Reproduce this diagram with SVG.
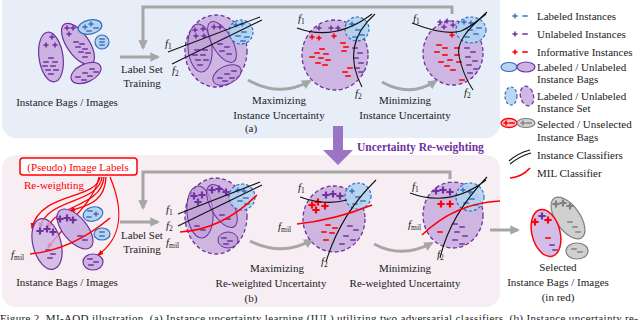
<svg xmlns="http://www.w3.org/2000/svg" xmlns:xlink="http://www.w3.org/1999/xlink" width="640" height="320" viewBox="0 0 640 320">
<style>
text{font-family:"Liberation Serif","Times New Roman",serif;font-size:11px;fill:#222}
.it{font-style:italic}
.sub{font-style:normal;font-size:7.5px}
.pu{stroke:#7030a0;stroke-width:1.5;fill:none}
.bl{stroke:#2f6fc0;stroke-width:1.4;fill:none}
.rd{stroke:#ff0000;stroke-width:1.6;fill:none}
.gy{stroke:#808080;stroke-width:1.5;fill:none}
.bag{fill:#cdb3e2;stroke:#7030a0;stroke-width:1.2}
.bagB{fill:#b9d3ef;stroke:#2f6fc0;stroke-width:1.2}
.set{fill:#c8acdd;fill-opacity:0.85;stroke:#7030a0;stroke-width:1.3;stroke-dasharray:4 2.5}
.setB{fill:#b3d1ef;fill-opacity:0.9;stroke:#2f6fc0;stroke-width:1.2;stroke-dasharray:3 2}
.inner{fill:#bb9ad6;fill-opacity:0.6;stroke:#7030a0;stroke-width:1}
.cls{stroke:#111;stroke-width:1.1;fill:none}
.mil{stroke:#ff0000;stroke-width:1.6;fill:none}
.flow{stroke:#a6a6a6;stroke-width:3;fill:none}
.rarr{stroke:#ff0000;stroke-width:1.3;fill:none}
</style>
<defs>
<path id="pl" d="M-2.6,0h5.2M0,-2.6v5.2"/>
<path id="PL" d="M-3.6,0h7.2M0,-3.6v7.2" stroke-width="2.2"/>
<path id="mi" d="M-2.8,0h5.6"/>
<marker id="ga" viewBox="0 0 10 10" refX="8" refY="5" markerWidth="3.2" markerHeight="3.2" orient="auto"><path d="M0,0L10,5L0,10z" fill="#a6a6a6"/></marker>
<marker id="ra" viewBox="0 0 10 10" refX="8" refY="5" markerWidth="5" markerHeight="5" orient="auto"><path d="M0,1L10,5L0,9z" fill="#ff0000"/></marker>
</defs>

<!-- panels -->
<rect x="2" y="-12" width="498" height="150" rx="14" fill="#e7eef8"/>
<rect x="2" y="155" width="498" height="152" rx="14" fill="#f6eef3"/>

<!-- connectors -->
<g id="connectors">
<path class="flow" d="M452,14V7H143V48" marker-end="url(#ga)"/>
<path class="flow" d="M120,57H158" marker-end="url(#ga)"/>
<path class="flow" d="M248,80Q280,98 310,81" marker-end="url(#ga)"/>
<path class="flow" d="M382,82Q410,98 436,81" marker-end="url(#ga)"/>
<path class="flow" d="M450,179V172H143V208" marker-end="url(#ga)"/>
<path class="flow" d="M120,222H158" marker-end="url(#ga)"/>
<path class="flow" d="M250,241Q282,257 312,240" marker-end="url(#ga)"/>
<path class="flow" d="M374,244Q402,259 432,243" marker-end="url(#ga)"/>
<path class="flow" d="M490,230H518" marker-end="url(#ga)"/>
<!-- uncertainty re-weighting big arrow -->
<path d="M333,126H343V150H353L338,165L323,150H333Z" fill="#9c74c6"/>
<!-- red re-weighting arrows -->
<path class="rarr" d="M100,177C96,200 40,192 32,228" marker-end="url(#ra)"/>
<path class="rarr" d="M102,177C99,204 46,198 40,228" marker-end="url(#ra)"/>
<path class="rarr" d="M104,177C101,208 56,204 48,228" marker-end="url(#ra)"/>
<path class="rarr" d="M99,177C94,205 62,226 48,248" marker-end="url(#ra)"/>
<path class="rarr" d="M106,177C105,205 82,206 70,211" marker-end="url(#ra)"/>
<path class="rarr" d="M110,177C124,210 122,238 98,255" marker-end="url(#ra)"/>
</g>

<!-- (a) stage 0 -->
<g id="a-bags">
<ellipse class="bag" cx="51" cy="57" rx="12" ry="25" transform="rotate(-8 51 57)"/>
<ellipse class="bag" cx="78" cy="44" rx="11" ry="24" transform="rotate(-35 78 44)"/>
<ellipse class="bagB" cx="90" cy="27" rx="12" ry="7" transform="rotate(-12 90 27)"/>
<ellipse class="bagB" cx="102" cy="42" rx="7" ry="7"/>
<ellipse class="bag" cx="86" cy="73" rx="16" ry="9" transform="rotate(-25 86 73)"/>
<g class="pu">
<use href="#pl" x="52" y="37"/><use href="#pl" x="46" y="45"/><use href="#pl" x="55" y="45"/>
<use href="#mi" x="51" y="58"/><use href="#mi" x="46" y="62"/><use href="#mi" x="55" y="62"/><use href="#mi" x="45" y="66"/><use href="#mi" x="53" y="66"/><use href="#mi" x="48" y="70"/><use href="#mi" x="56" y="70"/><use href="#mi" x="51" y="74"/>
<use href="#pl" x="67" y="28"/><use href="#pl" x="73" y="28"/><use href="#pl" x="69" y="34"/>
<use href="#mi" x="76" y="42"/><use href="#mi" x="82" y="44"/><use href="#mi" x="78" y="47"/><use href="#mi" x="85" y="49"/><use href="#mi" x="81" y="52"/><use href="#mi" x="88" y="53"/><use href="#mi" x="85" y="57"/>
<use href="#mi" x="78" y="77"/><use href="#mi" x="85" y="73"/><use href="#mi" x="92" y="69"/><use href="#mi" x="84" y="80"/><use href="#mi" x="90" y="76"/><use href="#mi" x="96" y="72"/>
</g>
<g class="bl">
<use href="#pl" x="85" y="27"/><use href="#pl" x="91" y="24"/><use href="#mi" x="96" y="28"/><use href="#mi" x="89" y="31"/>
<use href="#mi" x="102" y="39"/><use href="#mi" x="102" y="42"/><use href="#mi" x="102" y="45"/>
</g>
<text x="67" y="106" text-anchor="middle">Instance Bags / Images</text>
</g>

<g id="a-train">
<text x="142" y="73" text-anchor="middle">Label Set</text>
<text x="142" y="87" text-anchor="middle">Training</text>
</g>

<!-- (a) stage 1 -->
<g id="a-stage1">
<ellipse class="set" cx="216" cy="51" rx="31" ry="36"/>
<ellipse class="inner" cx="200" cy="48" rx="12" ry="24" transform="rotate(-5 200 48)"/>
<ellipse class="inner" cx="222" cy="42" rx="10" ry="23" transform="rotate(-30 222 42)"/>
<ellipse class="inner" cx="227" cy="75" rx="15" ry="9" transform="rotate(-25 227 75)"/>
<circle class="setB" cx="241" cy="32" r="12"/>
<g class="pu">
<use href="#pl" x="195" y="30"/><use href="#pl" x="203" y="29"/><use href="#pl" x="196" y="36"/><use href="#pl" x="204" y="36"/>
<use href="#mi" x="197" y="50"/><use href="#mi" x="205" y="50"/><use href="#mi" x="195" y="55"/><use href="#mi" x="203" y="55"/><use href="#mi" x="198" y="60"/><use href="#mi" x="206" y="60"/><use href="#mi" x="200" y="65"/>
<use href="#pl" x="214" y="27"/><use href="#pl" x="220" y="27"/>
<use href="#mi" x="220" y="44"/><use href="#mi" x="227" y="47"/><use href="#mi" x="222" y="51"/><use href="#mi" x="229" y="54"/>
<use href="#mi" x="220" y="78"/><use href="#mi" x="227" y="74"/><use href="#mi" x="234" y="71"/><use href="#mi" x="225" y="81"/><use href="#mi" x="232" y="78"/>
</g>
<g class="bl"><use href="#pl" x="236" y="25"/><use href="#pl" x="242" y="24"/><use href="#mi" x="244" y="32"/><use href="#mi" x="247" y="37"/><use href="#mi" x="238" y="36"/><use href="#mi" x="243" y="41"/></g>
<path class="cls" d="M168,52L260,17M172,64L262,20"/>
<text class="it" x="165" y="47">f<tspan class="sub" dy="2">1</tspan></text>
<text class="it" x="172" y="74">f<tspan class="sub" dy="2">2</tspan></text>
</g>

<!-- (a) stage 2 -->
<g id="a-stage2">
<ellipse class="set" cx="335" cy="55" rx="33" ry="35"/>
<circle class="setB" cx="357" cy="29" r="12"/>
<g class="pu"><use href="#pl" x="319" y="28"/><use href="#pl" x="331" y="28"/><use href="#pl" x="338" y="28"/><use href="#mi" x="355" y="48"/><use href="#mi" x="360" y="53"/><use href="#mi" x="356" y="58"/><use href="#mi" x="361" y="63"/><use href="#mi" x="357" y="68"/><use href="#mi" x="361" y="72"/></g>
<g class="bl"><use href="#pl" x="352" y="24"/><use href="#mi" x="358" y="30"/><use href="#mi" x="362" y="35"/><use href="#mi" x="355" y="37"/></g>
<g class="rd"><use href="#pl" x="312" y="37"/><use href="#pl" x="319" y="38"/><use href="#pl" x="334" y="36"/>
<use href="#mi" x="322" y="49"/><use href="#mi" x="317" y="53"/><use href="#mi" x="326" y="54"/><use href="#mi" x="312" y="57"/><use href="#mi" x="321" y="58"/><use href="#mi" x="328" y="60"/><use href="#mi" x="318" y="63"/><use href="#mi" x="325" y="65"/>
<use href="#mi" x="343" y="43"/><use href="#mi" x="346" y="47"/><use href="#mi" x="344" y="51"/><use href="#mi" x="350" y="68"/><use href="#mi" x="345" y="72"/><use href="#mi" x="348" y="76"/></g>
<path class="cls" d="M297,28Q335,42 372,14M375,14Q340,45 362,87"/>
<text class="it" x="298" y="22">f<tspan class="sub" dy="2">1</tspan></text>
<text class="it" x="355" y="97">f<tspan class="sub" dy="2">2</tspan></text>
<text x="279" y="104" text-anchor="middle">Maximizing</text>
<text x="279" y="119" text-anchor="middle">Instance Uncertainty</text>
<text x="251" y="132" text-anchor="middle">(a)</text>
</g>

<!-- (a) stage 3 -->
<g id="a-stage3">
<ellipse class="set" cx="453" cy="53" rx="30" ry="32"/>
<ellipse class="setB" cx="471" cy="30" rx="15" ry="13"/>
<g class="pu"><use href="#pl" x="440" y="22"/><use href="#pl" x="447" y="21"/><use href="#pl" x="444" y="27"/><use href="#pl" x="453" y="25"/>
<use href="#mi" x="467" y="48"/><use href="#mi" x="473" y="52"/><use href="#mi" x="468" y="57"/><use href="#mi" x="475" y="61"/><use href="#mi" x="469" y="65"/><use href="#mi" x="476" y="69"/><use href="#mi" x="470" y="73"/></g>
<g class="bl"><use href="#pl" x="464" y="22"/><use href="#pl" x="471" y="23"/><use href="#mi" x="470" y="30"/><use href="#mi" x="476" y="34"/><use href="#mi" x="467" y="37"/><use href="#mi" x="479" y="28"/></g>
<g class="rd"><use href="#pl" x="452" y="35"/>
<use href="#mi" x="439" y="45"/><use href="#mi" x="445" y="48"/><use href="#mi" x="437" y="52"/><use href="#mi" x="445" y="55"/><use href="#mi" x="450" y="60"/><use href="#mi" x="441" y="62"/><use href="#mi" x="447" y="66"/><use href="#mi" x="453" y="70"/><use href="#mi" x="457" y="48"/><use href="#mi" x="457" y="55"/><use href="#mi" x="459" y="62"/><use href="#mi" x="462" y="80"/></g>
<path class="cls" d="M412,23Q445,36 461,31Q473,26 487,12M486,14Q455,38 459,56Q463,75 473,90"/>
<text class="it" x="413" y="22">f<tspan class="sub" dy="2">1</tspan></text>
<text class="it" x="464" y="96">f<tspan class="sub" dy="2">2</tspan></text>
<text x="405" y="104" text-anchor="middle">Minimizing</text>
<text x="405" y="119" text-anchor="middle">Instance Uncertainty</text>
</g>

<text x="357" y="151" font-weight="bold" style="font-size:11.5px;fill:#7030a0;font-weight:bold">Uncertainty Re-weighting</text>

<!-- (b) stage 0 -->
<g id="b-bags">
<rect x="20" y="158" width="117" height="17" rx="3" fill="#fff" stroke="#ff0000" stroke-width="1.5"/>
<text x="78" y="170.5" text-anchor="middle" style="fill:#ff0000">(Pseudo) Image Labels</text>
<text x="24" y="189" style="fill:#ff0000">Re-weighting</text>
<ellipse class="bag" cx="47" cy="244" rx="14" ry="26" transform="rotate(-15 47 244)" fill-opacity="0.8"/>
<ellipse class="bag" cx="75" cy="229" rx="12" ry="24" transform="rotate(-40 75 229)"/>
<ellipse class="bagB" cx="93" cy="214" rx="10" ry="7" transform="rotate(-15 93 214)"/>
<ellipse class="bagB" cx="102" cy="234" rx="8" ry="6"/>
<ellipse class="bag" cx="93" cy="262" rx="10" ry="8"/>
<g class="pu"><use href="#PL" x="40" y="231"/><use href="#PL" x="47" y="229"/><use href="#PL" x="53" y="232"/><use href="#PL" x="60" y="219"/><use href="#PL" x="67" y="218"/><use href="#PL" x="73" y="220"/>
<use href="#mi" x="48" y="250"/><use href="#mi" x="53" y="254"/><use href="#mi" x="50" y="258"/><use href="#mi" x="80" y="236"/><use href="#mi" x="85" y="240"/>
<use href="#mi" x="90" y="259"/><use href="#mi" x="96" y="262"/><use href="#mi" x="91" y="265"/></g>
<g class="bl"><use href="#mi" x="90" y="211"/><use href="#pl" x="96" y="214"/><use href="#mi" x="89" y="217"/><use href="#mi" x="102" y="232"/><use href="#mi" x="102" y="236"/></g>
<path class="mil" d="M30,254Q72,250 110,218"/>
<text class="it" x="11" y="258">f<tspan class="sub" dy="2">mil</tspan></text>
<text x="67" y="286" text-anchor="middle">Instance Bags / Images</text>
</g>

<g id="b-train">
<text x="142" y="239" text-anchor="middle">Label Set</text>
<text x="142" y="253" text-anchor="middle">Training</text>
</g>

<!-- (b) stage 1 -->
<g id="b-stage1">
<ellipse class="set" cx="216" cy="216" rx="31" ry="38"/>
<ellipse class="inner" cx="200" cy="212" rx="13" ry="26" transform="rotate(-5 200 212)"/>
<ellipse class="inner" cx="222" cy="206" rx="11" ry="24" transform="rotate(-30 222 206)"/>
<ellipse class="inner" cx="228" cy="240" rx="10" ry="8"/>
<circle class="setB" cx="242" cy="197" r="13"/>
<g class="pu"><use href="#PL" x="194" y="196"/><use href="#PL" x="202" y="195"/><use href="#PL" x="198" y="202"/><use href="#PL" x="212" y="190"/><use href="#PL" x="219" y="189"/><use href="#PL" x="226" y="192"/>
<use href="#mi" x="197" y="226"/><use href="#mi" x="203" y="230"/><use href="#mi" x="222" y="215"/><use href="#mi" x="228" y="219"/><use href="#mi" x="224" y="238"/><use href="#mi" x="230" y="241"/><use href="#mi" x="226" y="244"/></g>
<g class="bl"><use href="#pl" x="238" y="190"/><use href="#pl" x="244" y="191"/><use href="#mi" x="246" y="198"/><use href="#mi" x="240" y="201"/><use href="#mi" x="247" y="204"/></g>
<path class="cls" d="M178,214L260,182M178,226L262,185"/>
<path class="mil" d="M180,232Q222,230 257,195"/>
<text class="it" x="166" y="213">f<tspan class="sub" dy="2">1</tspan></text>
<text class="it" x="166" y="229">f<tspan class="sub" dy="2">2</tspan></text>
<text class="it" x="166" y="246">f<tspan class="sub" dy="2">mil</tspan></text>
</g>

<!-- (b) stage 2 -->
<g id="b-stage2">
<ellipse class="set" cx="334" cy="219" rx="31" ry="33"/>
<circle class="setB" cx="358" cy="196" r="13"/>
<g class="pu"><use href="#PL" x="326" y="195"/><use href="#PL" x="333" y="194"/><use href="#PL" x="340" y="196"/>
<use href="#mi" x="350" y="226"/><use href="#mi" x="356" y="230"/><use href="#mi" x="346" y="236"/><use href="#mi" x="353" y="240"/><use href="#mi" x="342" y="244"/></g>
<g class="bl"><use href="#pl" x="352" y="191"/><use href="#mi" x="358" y="197"/><use href="#mi" x="363" y="201"/><use href="#mi" x="355" y="204"/></g>
<g class="rd"><use href="#PL" x="312" y="205"/><use href="#PL" x="318" y="202"/><use href="#PL" x="325" y="206"/><use href="#PL" x="316" y="210"/>
<use href="#mi" x="328" y="225"/><use href="#mi" x="335" y="228"/><use href="#mi" x="324" y="232"/><use href="#mi" x="332" y="233"/><use href="#mi" x="326" y="240"/></g>
<path class="cls" d="M300,197Q325,206 347,200M376,180Q340,215 326,262"/>
<path class="mil" d="M297,224Q335,220 372,205"/>
<text class="it" x="298" y="191">f<tspan class="sub" dy="2">1</tspan></text>
<text class="it" x="278" y="230">f<tspan class="sub" dy="2">mil</tspan></text>
<text class="it" x="321" y="265">f<tspan class="sub" dy="2">2</tspan></text>
<text x="277" y="272" text-anchor="middle">Maximizing</text>
<text x="271" y="287" text-anchor="middle">Re-weighted Uncertainty</text>
<text x="251" y="302" text-anchor="middle">(b)</text>
</g>

<!-- (b) stage 3 -->
<g id="b-stage3">
<ellipse class="set" cx="453" cy="215" rx="30" ry="33"/>
<circle class="setB" cx="470" cy="197" r="14"/>
<g class="pu"><use href="#PL" x="436" y="191"/><use href="#PL" x="443" y="190"/><use href="#PL" x="450" y="192"/>
<use href="#mi" x="455" y="224"/><use href="#mi" x="462" y="227"/><use href="#mi" x="457" y="232"/><use href="#mi" x="465" y="236"/><use href="#mi" x="455" y="240"/><use href="#mi" x="462" y="244"/></g>
<g class="bl"><use href="#pl" x="463" y="190"/><use href="#pl" x="470" y="192"/><use href="#mi" x="472" y="199"/><use href="#mi" x="466" y="203"/><use href="#mi" x="476" y="205"/></g>
<g class="rd"><use href="#PL" x="441" y="204"/><use href="#PL" x="450" y="204"/><use href="#mi" x="440" y="232"/></g>
<path class="cls" d="M410,193Q450,208 486,180M487,177Q450,215 440,258"/>
<path class="mil" d="M422,235Q455,203 500,201"/>
<text class="it" x="412" y="190">f<tspan class="sub" dy="2">1</tspan></text>
<text class="it" x="408" y="228">f<tspan class="sub" dy="2">mil</tspan></text>
<text class="it" x="437" y="258">f<tspan class="sub" dy="2">2</tspan></text>
<text x="405" y="272" text-anchor="middle">Minimizing</text>
<text x="405" y="287" text-anchor="middle">Re-weighted Uncertainty</text>
</g>

<!-- selected output -->
<g id="selected">
<ellipse cx="568" cy="218" rx="12" ry="24" transform="rotate(-35 568 218)" fill="#d0d0d0" stroke="#808080" stroke-width="1.2"/>
<ellipse cx="577" cy="251" rx="11" ry="8" fill="#d0d0d0" stroke="#808080" stroke-width="1.2"/>
<ellipse cx="546" cy="233" rx="14" ry="24" transform="rotate(-15 546 233)" fill="#d4bde6" stroke="#ff0000" stroke-width="1.5"/>
<g class="gy"><use href="#PL" x="556" y="204"/><use href="#PL" x="563" y="203"/><use href="#PL" x="570" y="206"/><use href="#mi" x="570" y="222"/><use href="#mi" x="575" y="227"/><use href="#mi" x="578" y="232"/><use href="#mi" x="574" y="249"/><use href="#mi" x="580" y="252"/></g>
<g class="pu"><use href="#PL" x="542" y="216"/><use href="#mi" x="552" y="245"/><use href="#mi" x="555" y="250"/></g>
<g class="rd"><use href="#PL" x="535" y="222"/><use href="#PL" x="548" y="220"/><use href="#mi" x="548" y="238"/></g>
<text x="558" y="271" text-anchor="middle">Selected</text>
<text x="558" y="286" text-anchor="middle">Instance Bags / Images</text>
<text x="558" y="301" text-anchor="middle">(in red)</text>
</g>

<!-- legend -->
<g id="legend">
<g class="bl"><use href="#pl" x="515" y="16"/><use href="#mi" x="525" y="16"/></g>
<text x="537" y="20">Labeled Instances</text>
<g class="pu"><use href="#pl" x="515" y="34"/><use href="#mi" x="525" y="34"/></g>
<text x="537" y="38">Unlabeled Instances</text>
<g class="rd"><use href="#pl" x="515" y="52"/><use href="#mi" x="525" y="52"/></g>
<text x="537" y="56">Informative Instances</text>
<ellipse class="bagB" cx="509" cy="67" rx="8" ry="4.5"/>
<ellipse class="bag" cx="526" cy="67" rx="9" ry="5"/>
<text x="537" y="71">Labeled / Unlabeled</text>
<text x="537" y="83">Instance Bags</text>
<ellipse class="setB" cx="511" cy="96" rx="6" ry="9"/>
<ellipse class="set" cx="527" cy="96" rx="6.5" ry="10" transform="rotate(-15 527 96)"/>
<text x="537" y="100">Labeled / Unlabeled</text>
<text x="537" y="112">Instance Set</text>
<ellipse cx="509" cy="123" rx="8" ry="4.5" fill="#f2c6cc" stroke="#ff0000" stroke-width="1.3"/>
<ellipse cx="526" cy="123" rx="9" ry="4.5" fill="#d0d0d0" stroke="#808080" stroke-width="1.2"/>
<g class="rd"><use href="#pl" x="506" y="123"/><use href="#mi" x="512" y="123"/></g>
<g class="gy"><use href="#pl" x="523" y="123"/><use href="#mi" x="529" y="123"/></g>
<text x="537" y="128">Selected / Unselected</text>
<text x="537" y="141">Instance Bags</text>
<path class="cls" d="M509,161Q518,153 530,150M510,164Q520,156 531,153"/>
<text x="537" y="159">Instance Classifiers</text>
<path class="mil" d="M510,178Q522,177 530,168"/>
<text x="537" y="177">MIL Classifier</text>
</g>

<text x="0" y="322" textLength="638" lengthAdjust="spacing">Figure 2. MI-AOD illustration. (a) Instance uncertainty learning (IUL) utilizing two adversarial classifiers. (b) Instance uncertainty re-</text>
</svg>
